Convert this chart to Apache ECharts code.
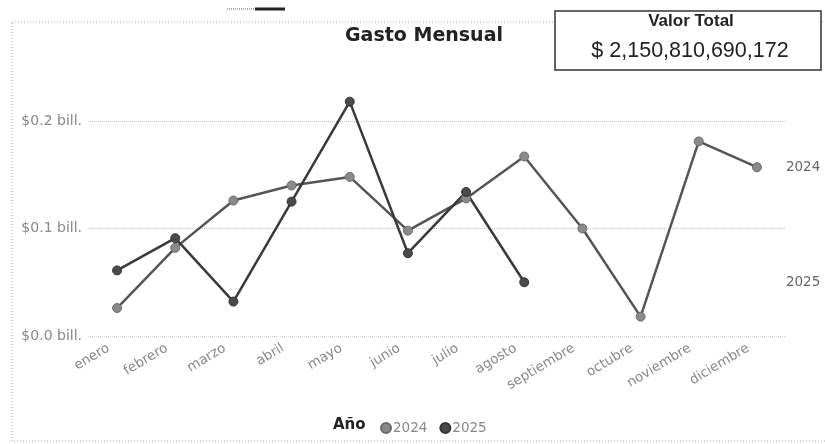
<!DOCTYPE html>
<html><head><meta charset="utf-8">
<script src="https://cdn.jsdelivr.net/npm/echarts@6/dist/echarts.min.js"></script>
<style>html,body{margin:0;padding:0;background:#fff}#c{width:825px;height:444px}</style>
</head><body><div id="c"></div>
<script>
const months = ['enero','febrero','marzo','abril','mayo','junio','julio','agosto','septiembre','octubre','noviembre','diciembre'];
const s2024 = [0.026,0.082,0.126,0.140,0.148,0.098,0.128,0.167,0.100,0.018,0.181,0.157];
const s2025 = [0.061,0.091,0.032,0.125,0.218,0.077,0.134,0.050];
const yTicks = [0, 0.1, 0.2];
const totalText = '$ 2,150,810,690,172';

const c2024 = '#8a8a8a', c2025 = '#4a4a4a';
const F = '"DejaVu Sans"';
const chart = echarts.init(document.getElementById('c'));
function endMark(name, data){
  return {data:[{coord:[months[months.length-1], data[data.length-1]], value:name}],
    symbolSize:0, label:{show:true, position:'right', distance:0, offset:[29,0], formatter:name,
      color:'#666', fontSize:13.5, fontFamily:F}};
}
chart.setOption({
  animation:false,
  grid:{left:88, right:39, top:13.5, bottom:108},
  xAxis:{type:'category', data:months, boundaryGap:true,
    axisLine:{show:false}, axisTick:{show:false},
    axisLabel:{rotate:31, color:'#888', fontSize:13.5, fontFamily:F, margin:6, interval:0, padding:[0,10,0,0]}},
  yAxis:{type:'value', min:0, max:0.3, interval:0.1,
    axisLabel:{color:'#888', fontSize:14, fontFamily:F, margin:6,
      formatter:v=> yTicks.some(t=>Math.abs(t-v)<1e-9) ? '$'+v.toFixed(1)+' bill.' : ''},
    splitLine:{lineStyle:{type:'dotted', color:['#c8c8c8','#c8c8c8','#c8c8c8','rgba(0,0,0,0)'], width:1}}},
  legend:{left:375, top:416, itemWidth:10, itemHeight:10, itemGap:12, icon:'circle',
    textStyle:{color:'#888', fontSize:13.5, fontFamily:F, padding:[0,0,0,-3]},
    data:['2024','2025']},
  series:[
    {name:'2024', type:'line', data:s2024, symbol:'circle', symbolSize:9,
      lineStyle:{color:'#555', width:2.5}, itemStyle:{color:c2024, borderColor:'#6a6a6a', borderWidth:1},
      markPoint:endMark('2024', s2024)},
    {name:'2025', type:'line', data:s2025, symbol:'circle', symbolSize:9,
      lineStyle:{color:'#3a3a3a', width:2.5}, itemStyle:{color:c2025, borderColor:'#333', borderWidth:1},
      markPoint:endMark('2025', s2025)}
  ],
  graphic:[
    {type:'rect', shape:{x:12, y:22, width:830, height:419}, style:{fill:'none', stroke:'#aaa', lineWidth:1, lineDash:[1,2]}},
    {type:'rect', shape:{x:555, y:11, width:266, height:59}, style:{fill:'#fff', stroke:'#333', lineWidth:1.5}, z:10},
    {type:'text', x:691, y:13, z:11, style:{text:'Valor Total', fill:'#222', font:'bold 17px "Liberation Sans", Arial', align:'center', verticalAlign:'top'}},
    {type:'text', x:690, y:40, z:11, style:{text:totalText, fill:'#222', font:'21.5px "Liberation Sans", Arial', align:'center', verticalAlign:'top'}},
    {type:'text', x:424, y:27, style:{text:'Gasto Mensual', fill:'#222', font:'bold 19px "DejaVu Sans"', align:'center', verticalAlign:'top'}},
    {type:'text', x:333, y:418, style:{text:'Año', fill:'#222', font:'bold 15px "DejaVu Sans"', verticalAlign:'top'}},
    {type:'line', shape:{x1:227, y1:9, x2:255, y2:9}, style:{stroke:'#aaa', lineWidth:2, lineDash:[1,1]}},
    {type:'line', shape:{x1:255, y1:9, x2:285, y2:9}, style:{stroke:'#222', lineWidth:3}}
  ]
});
</script></body></html>
